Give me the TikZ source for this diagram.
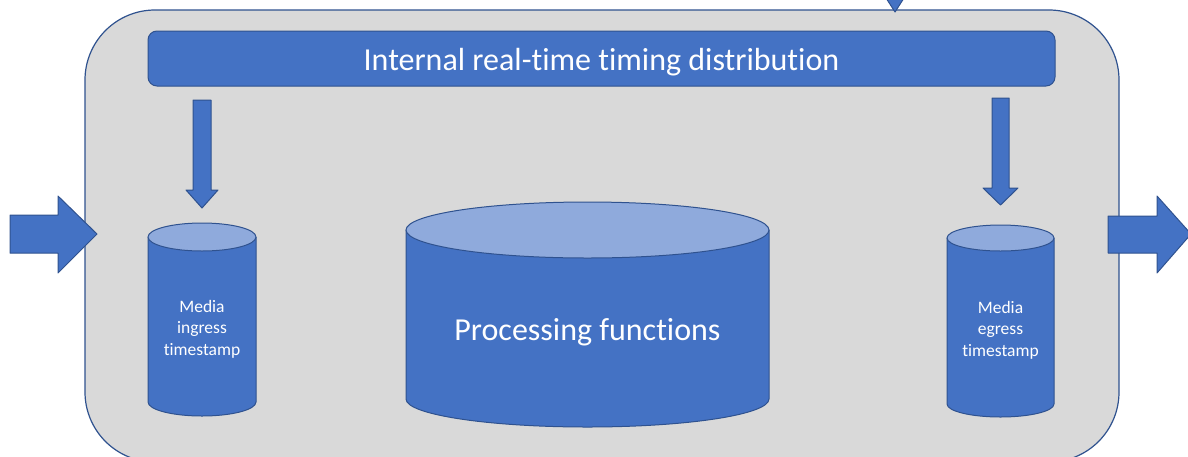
\documentclass[tikz,border=0pt]{standalone}
\usepackage{fontspec}
\setmainfont{Carlito}[Ligatures=NoCommon]
\definecolor{bluefill}{HTML}{4472C4}
\definecolor{blueline}{HTML}{2F528F}
\definecolor{bluetop}{HTML}{8FAADC}
\definecolor{graybox}{HTML}{D9D9D9}
\tikzset{
  shapeline/.style={draw=blueline, line width=1pt, line join=round},
  bluebody/.style={shapeline, fill=bluefill},
  bluelid/.style={shapeline, fill=bluetop},
  whitetext/.style={text=white, inner sep=0pt, align=center},
}
\begin{document}
\begin{tikzpicture}[x=1pt, y=-1pt]
\useasboundingbox (0,0) rectangle (1188,456);
\clip (0,0) rectangle (1188,456);
% outer device box
\draw[fill=graybox, draw=blueline, line width=1.2pt, rounded corners=70pt] (85,10) rectangle (1119,462);
% top incoming arrow (cut off)
\filldraw[bluebody] (886,-2) -- (904,-2) -- (895,12) -- cycle;
% banner
\draw[bluebody, rounded corners=9pt] (148,31) rectangle (1055,86);
\node[whitetext, font=\fontsize{32}{36}\selectfont] (banner) at (601.5,62) {Internal real-time timing distribution};
% down arrows
\draw[bluebody] (193,100) -- (211,100) -- (211,190) -- (218,190) -- (202,208) -- (186,190) -- (193,190) -- cycle;
\draw[bluebody] (992,98) -- (1009,98) -- (1009,188) -- (1018,188) -- (1000.5,205) -- (983,188) -- (992,188) -- cycle;
% input / output arrows
\draw[bluebody] (10,215) -- (58,215) -- (58,196) -- (97,234) -- (58,273) -- (58,253) -- (10,253) -- cycle;
\draw[bluebody] (1108,216) -- (1157,216) -- (1157,196) -- (1191,234) -- (1157,273) -- (1157,253) -- (1108,253) -- cycle;
% left cylinder
\draw[bluebody] (148,237) -- (148,402) arc[start angle=180, end angle=0, x radius=54, y radius=14] -- (256,237) -- cycle;
\draw[bluelid] (202,237) ellipse [x radius=54, y radius=14];
\node[whitetext, font=\fontsize{17.5}{21.5}\selectfont] (ingress) at (202,329) {Media\\ingress\\timestamp};
% middle cylinder
\draw[bluebody] (406,230) -- (406,399) arc[start angle=180, end angle=0, x radius=181.5, y radius=28] -- (769,230) -- cycle;
\draw[bluelid] (587.5,230) ellipse [x radius=181.5, y radius=28];
\node[whitetext, font=\fontsize{32}{36}\selectfont] (proc) at (587.5,332) {Processing functions};
% right cylinder
\draw[bluebody] (947,238) -- (947,404) arc[start angle=180, end angle=0, x radius=53.5, y radius=13] -- (1054,238) -- cycle;
\draw[bluelid] (1000.5,238) ellipse [x radius=53.5, y radius=13];
\node[whitetext, font=\fontsize{17.5}{21.5}\selectfont] (egress) at (1000.5,330) {Media\\egress\\timestamp};
\end{tikzpicture}
\end{document}
